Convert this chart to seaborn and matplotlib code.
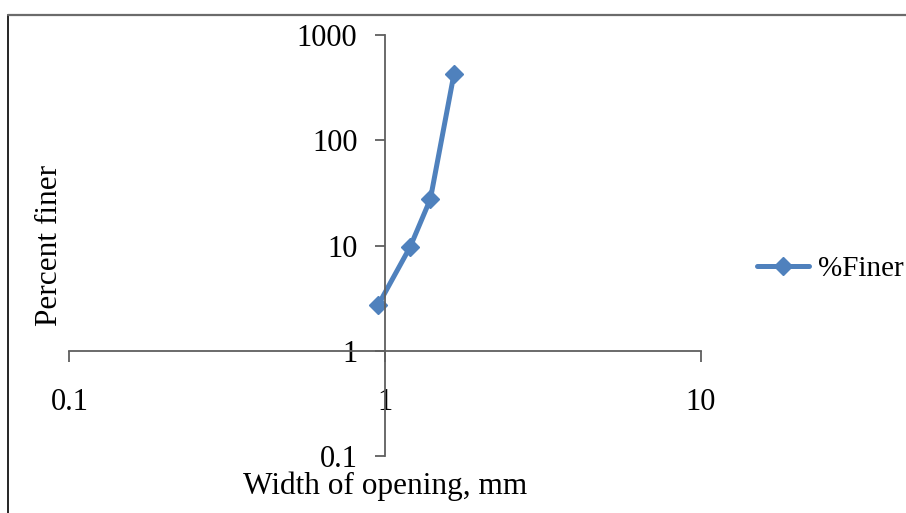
import matplotlib
matplotlib.use("Agg")
import matplotlib.pyplot as plt
from matplotlib.lines import Line2D
import seaborn as sns
import pandas as pd

# data
opening_mm = [0.95, 1.2, 1.39, 1.65]
percent_finer = [2.73, 9.76, 27.7, 423]
series_name = "%Finer"
x_ticks = [0.1, 1, 10]
x_tick_labels = ["0.1", "1", "10"]
y_ticks = [0.1, 1, 10, 100, 1000]
y_tick_labels = ["0.1", "1", "10", "100", "1000"]

sns.set_style("white")
plt.rcParams['font.family'] = ['Liberation Serif', 'DejaVu Serif']
plt.rcParams['text.color'] = 'black'
plt.rcParams['axes.labelcolor'] = 'black'
plt.rcParams['xtick.labelcolor'] = 'black'
plt.rcParams['ytick.labelcolor'] = 'black'

df = pd.DataFrame({"x": opening_mm, "y": percent_finer, "s": series_name})

fig = plt.figure(figsize=(9.06, 5.13), dpi=100)
ax = fig.add_axes([0.0767, 0.1107, 0.697, 0.821])

sns.lineplot(data=df, x="x", y="y", hue="s", palette=["#4F81BD"], marker="D",
             markersize=9.5, markeredgewidth=1, markeredgecolor="#4F81BD",
             linewidth=3.6, ax=ax, sort=False)

ax.set_xscale("log")
ax.set_yscale("log")
ax.set_xlim(0.1, 10)
ax.set_ylim(0.1, 1000)

for s in ["top", "right"]:
    ax.spines[s].set_visible(False)
ax.spines["left"].set_position(("data", 1))
ax.spines["bottom"].set_position(("data", 1))
for s in ["left", "bottom"]:
    ax.spines[s].set_color("#5f5f5f")
    ax.spines[s].set_linewidth(1.3)

ax.set_xticks(x_ticks)
ax.set_xticklabels(x_tick_labels)
ax.set_yticks(y_ticks)
ax.set_yticklabels(y_tick_labels)
ax.minorticks_off()
ax.tick_params(axis="x", direction="out", length=8, width=1.3, color="#5f5f5f",
               pad=19, labelsize=22, bottom=True, labelcolor="black")
ax.tick_params(axis="y", direction="out", length=7, width=1.3, color="#5f5f5f",
               pad=13, labelsize=22, left=True, labelcolor="black")
ax.grid(False)

ax.set_xlabel("Width of opening, mm", fontsize=22.5, color="black")
ax.set_ylabel("Percent finer", fontsize=22.5, color="black")
ax.xaxis.set_label_coords(0.5, -0.036)
ax.yaxis.set_label_coords(-0.008, 0.5)

handles, labels = ax.get_legend_handles_labels()
leg = ax.legend(handles=handles, labels=labels, loc="center left",
                bbox_to_anchor=(1.088, 0.444), frameon=False, fontsize=21,
                handlelength=1.8, handletextpad=0.3, borderaxespad=0,
                borderpad=0)
for t in leg.get_texts():
    t.set_color("black")

# outer frame (left and top edges)
fig.add_artist(Line2D([8/906, 8/906], [0, (513-15)/513], transform=fig.transFigure,
                      color="black", linewidth=1.2))
fig.add_artist(Line2D([8/906, 1], [(513-15)/513, (513-15)/513], transform=fig.transFigure,
                      color="#6b6b6b", linewidth=1.6))

fig.savefig("out.png", dpi=100)
